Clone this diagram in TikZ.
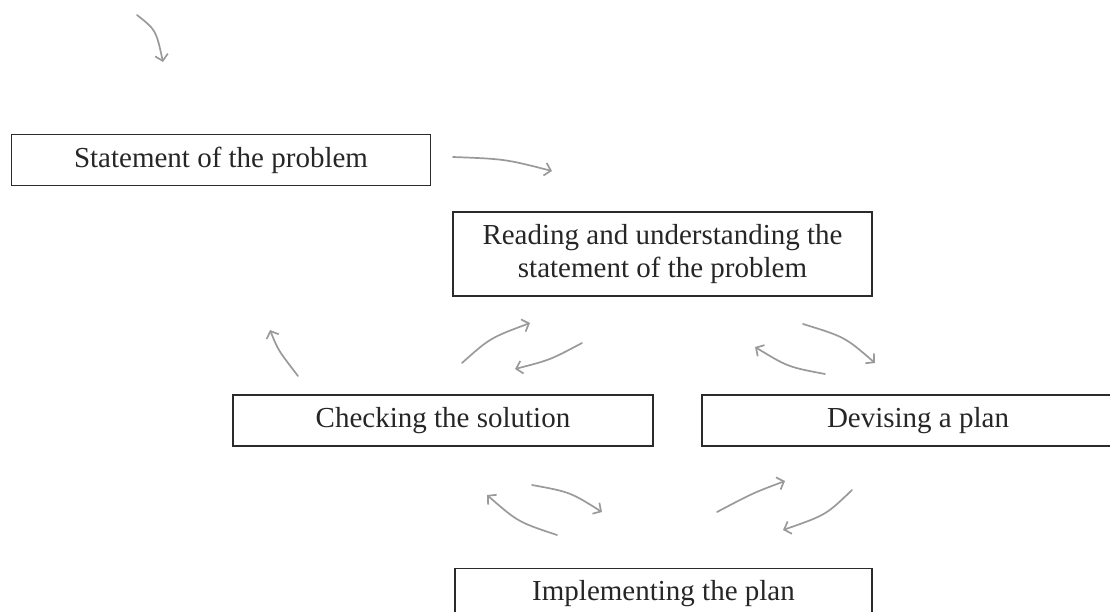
\documentclass[tikz,border=0pt]{standalone}
\usepackage{fontspec}
\setmainfont{Liberation Serif}
\usepackage{tikz}
\usetikzlibrary{arrows.meta}
\definecolor{boxline}{HTML}{2B2B2B}
\definecolor{sketchgray}{HTML}{9A9A9A}

\begin{document}
\begin{tikzpicture}[
  x=1pt, y=-1pt,
  every node/.style={font=\fontsize{29}{33}\selectfont, text=black!85},
  stage/.style={rectangle, draw=boxline, line width=1.4pt, minimum width=419pt,
               minimum height=51pt, align=center, inner sep=0pt},
  sketch/.style={-{Straight Barb[length=6pt, width=13pt]}, line width=1.7pt,
                 draw=sketchgray, line cap=round}
]
\useasboundingbox (0,0) rectangle (1110,612);
\node[stage]                       (statement) at (221,160)   {Statement of the problem};
\node[stage, minimum height=84pt]  (reading)   at (662.5,254) {Reading and understanding the\\statement of the problem};
\node[stage, minimum width=420pt]  (checking)  at (443,420.5) {Checking the solution};
\node[stage, minimum width=432pt]  (devising)  at (918,420.5) {Devising a plan};
\node[stage, minimum width=417pt]  (implement) at (663.5,594) {Implementing the plan};
% entry strokes
\draw[sketch] (137,15) .. controls (156,30) .. (163,62);
\draw[sketch] (453,157) .. controls (505,159) .. (552,171);
\draw[sketch] (298,376) .. controls (278,350) .. (270,330);
% cycle between reading and checking
\draw[sketch] (462,363) .. controls (490,338) .. (530,323);
\draw[sketch] (582,343) .. controls (550,360) .. (515,369);
% cycle between reading and devising
\draw[sketch] (803,324) .. controls (845,337) .. (875,363);
\draw[sketch] (825,374) .. controls (788,367) .. (755,347);
% cycle between checking and implementing
\draw[sketch] (532,485) .. controls (570,492) .. (602,512);
\draw[sketch] (557,535) .. controls (518,522) .. (487,495);
% cycle between devising and implementing
\draw[sketch] (717,512) .. controls (753,493) .. (785,481);
\draw[sketch] (852,490) .. controls (826,515) .. (783,530);
\end{tikzpicture}
\end{document}
